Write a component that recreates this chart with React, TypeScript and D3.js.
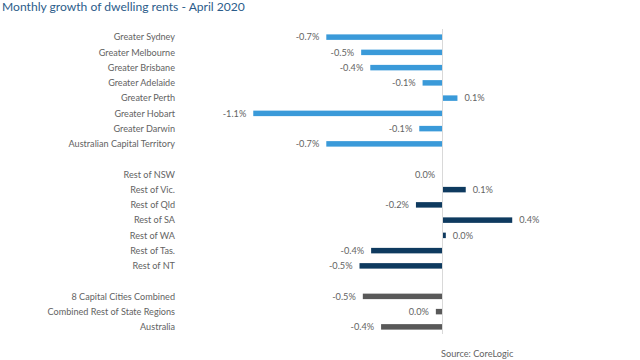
import React from "react";
import * as d3 from "d3";

const title = "Monthly growth of dwelling rents - April 2020";
const source = "Source: CoreLogic";

const capitalNames = [
  "Greater Sydney", "Greater Melbourne", "Greater Brisbane", "Greater Adelaide",
  "Greater Perth", "Greater Hobart", "Greater Darwin", "Australian Capital Territory",
];
const capitalValues = [-0.70, -0.49, -0.435, -0.12, 0.09, -1.14, -0.14, -0.70];

const restNames = [
  "Rest of NSW", "Rest of Vic.", "Rest of Qld", "Rest of SA", "Rest of WA", "Rest of Tas.", "Rest of NT",
];
const restValues = [-0.002, 0.14, -0.16, 0.42, 0.02, -0.43, -0.50];

const combinedNames = ["8 Capital Cities Combined", "Combined Rest of State Regions", "Australia"];
const combinedValues = [-0.48, -0.04, -0.37];

const groupColors = ["#3A9AD9", "#0E3A5F", "#595959"];

type Row = { key: string; name: string; value: number | null; group: number };

const rows: Row[] = [];
capitalNames.forEach((n, i) => rows.push({ key: n, name: n, value: capitalValues[i], group: 0 }));
rows.push({ key: "gap1", name: "", value: null, group: -1 });
restNames.forEach((n, i) => rows.push({ key: n, name: n, value: restValues[i], group: 1 }));
rows.push({ key: "gap2", name: "", value: null, group: -1 });
combinedNames.forEach((n, i) => rows.push({ key: n, name: n, value: combinedValues[i], group: 2 }));

const fmt = (v: number) => {
  let s = v.toFixed(1);
  if (s === "-0.0") s = "0.0";
  return s + "%";
};

export default function App() {
  const W = 640, H = 360;
  const x = d3.scaleLinear().domain([-1.2, 0.6]).range([442.5 - 1.2 * 166, 442.5 + 0.6 * 166]);
  const y = d3.scaleBand<string>().domain(rows.map(r => r.key)).range([29.5, 334.5]).paddingInner(0.64).paddingOuter(0.32);
  const font = "Lato, 'Open Sans', sans-serif";
  const textColor = "#636363";
  return (
    <svg width={W} height={H} style={{ position: "absolute", left: 0, top: 0, background: "#fff" }} fontFamily={font}>
      <text x={2} y={11} fontSize={12.1} fill="#2B5C8A">{title}</text>
      {rows.filter(r => r.value !== null).map(r => {
        const v = r.value as number;
        const x0 = x(Math.min(0, v));
        const w = Math.abs(x(v) - x(0));
        const yc = (y(r.key) as number) + y.bandwidth() / 2;
        return (
          <g key={r.key}>
            <text x={175} y={yc} dy="0.35em" textAnchor="end" fontSize={9.1} fill={textColor}>{r.name}</text>
            <rect x={x0} y={y(r.key)} width={w} height={y.bandwidth()} fill={groupColors[r.group]} />
            <text
              x={v < 0 ? x(v) - 7 : x(v) + 7}
              y={yc}
              dy="0.35em"
              textAnchor={v < 0 ? "end" : "start"}
              fontSize={9.2}
              fill={textColor}
            >{fmt(v)}</text>
          </g>
        );
      })}
      <line x1={x(0)} x2={x(0)} y1={29} y2={334} stroke="#d9d9d9" strokeWidth={1} />
      <text x={441} y={357} fontSize={9.2} fill={textColor}>{source}</text>
    </svg>
  );
}
